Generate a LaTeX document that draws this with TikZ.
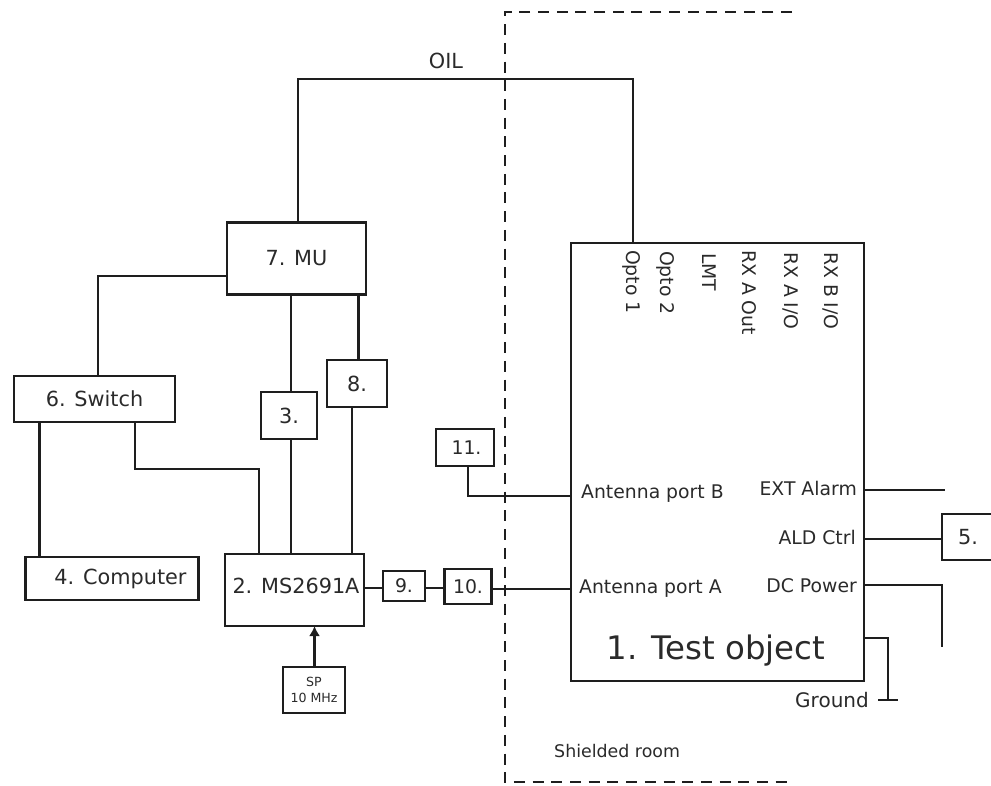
\documentclass[tikz,border=0pt]{standalone}
\usepackage{fontspec}
\usetikzlibrary{arrows.meta}
\setmainfont{DejaVu Sans}
\definecolor{inkline}{HTML}{1E1E1E}
\definecolor{inktext}{HTML}{2A2A2A}
\tikzset{
  unitbox/.style={draw=inkline, line width=2.4pt, inner sep=0pt, outer sep=0pt,
                  font=\fontsize{20.8}{24}\selectfont, text=inktext},
  wire/.style={draw=inkline, line width=2.4pt},
  portlabel/.style={font=\fontsize{18.8}{22}\selectfont, text=inktext, inner sep=0pt},
  pinlabel/.style={portlabel, rotate=-90, anchor=west},
  roomline/.style={draw=inkline, line width=2.4pt, dash pattern=on 11pt off 7.7pt},
}
\begin{document}
\begin{tikzpicture}[x=1pt, y=-1pt]
    \useasboundingbox (0,0) rectangle (991,786);
    % boxes
    \node[unitbox, minimum width=139pt, minimum height=72pt] (mu) at (296.5, 258.5) {7. MU};
    \node[unitbox, minimum width=161pt, minimum height=46pt] (switch) at (94.5, 399) {6. Switch};
    \node[unitbox, minimum width=56pt, minimum height=47pt] (three) at (289, 415.5) {3.};
    \node[unitbox, minimum width=60pt, minimum height=47pt] (eight) at (357, 383.5) {8.};
    \node[unitbox, minimum width=58pt, minimum height=37pt, font=\fontsize{18.8}{22}\selectfont] (eleven) at (465, 447.5) {\hspace*{3pt}11.};
    \node[unitbox, minimum width=173pt, minimum height=43pt] (computer) at (112, 578.5) {\hspace*{17pt}4. Computer};
    \node[unitbox, minimum width=139pt, minimum height=72pt] (analyzer) at (294.5, 590) {};
    \node[unitbox, draw=none, fill=none] (analyzertext) at (296, 586) {2. MS2691A};
    \node[unitbox, minimum width=42pt, minimum height=30pt, font=\fontsize{18.8}{22}\selectfont] (nine) at (404, 586) {9.};
    \node[unitbox, minimum width=47pt, minimum height=35pt, font=\fontsize{18.8}{22}\selectfont] (ten) at (468, 586.5) {10.};
    \node[unitbox, minimum width=62pt, minimum height=46pt, align=center,
          font=\fontsize{12.6}{16}\selectfont] (sp) at (314, 690) {SP\\10 MHz};
    \node[unitbox, minimum width=52pt, minimum height=46pt] (five) at (968, 537) {5.};
    \node[unitbox, minimum width=293pt, minimum height=438pt] (test) at (717.5, 462) {};
    \node[unitbox, draw=none, font=\fontsize{32.4}{36}\selectfont] (testtext) at (716, 651) {1. Test object};
    % labels in the test object
    \node[pinlabel] (opto1) at (632, 250) {Opto 1};
    \node[pinlabel] (opto2) at (666, 251) {Opto 2};
    \node[pinlabel] (lmt) at (709, 253) {LMT};
    \node[pinlabel] (rxaout) at (749, 250) {RX A Out};
    \node[pinlabel] (rxaio) at (791, 252) {RX A I/O};
    \node[pinlabel] (rxbio) at (831, 252) {RX B I/O};
    \node[portlabel, anchor=west] (portb) at (581, 494) {Antenna port B};
    \node[portlabel, anchor=west] (porta) at (579, 589) {Antenna port A};
    \node[portlabel, anchor=east] (extalarm) at (857, 488) {EXT Alarm};
    \node[portlabel, anchor=east] (aldctrl) at (856, 537) {ALD Ctrl};
    \node[portlabel, anchor=east] (dcpower) at (857, 586) {DC Power};
    \node[portlabel, font=\fontsize{20}{24}\selectfont, anchor=east] (ground) at (869, 700) {Ground};
    \node[portlabel, font=\fontsize{20.8}{24}\selectfont] (oil) at (446, 61) {OIL};
    \node[portlabel, font=\fontsize{17.4}{20}\selectfont, anchor=west] (room) at (554, 751) {Shielded room};
    % free ends
    \coordinate (alarmend) at (945, 490);
    \coordinate (powerend) at (942, 647);
    \coordinate (groundend) at (888, 700);
    \coordinate (tickleft) at (878, 700);
    \coordinate (tickright) at (898, 700);
    % connectors
    \draw[wire] ([xshift=1.5pt]mu.north) -- ++(0,-143.5) -| ([xshift=-84.5pt]test.north);
    \draw[wire] ([yshift=-17.5pt]mu.west) -| ([xshift=3.5pt]switch.north);
    \draw[wire] ([xshift=-55pt]switch.south) -- ([xshift=-72.5pt]computer.north);
    \draw[wire] ([xshift=40.5pt]switch.south) |- (259, 469) -- ([xshift=-35.5pt]analyzer.north);
    \draw[wire] ([xshift=-5.5pt]mu.south) -- ([xshift=2pt]three.north);
    \draw[wire] ([xshift=2pt]three.south) -- ([xshift=-3.5pt]analyzer.north);
    \draw[wire] ([xshift=62pt]mu.south) -- ([xshift=1.5pt]eight.north);
    \draw[wire] ([xshift=-5pt]eight.south) -- ([xshift=57.5pt]analyzer.north);
    \draw[wire] ([yshift=2pt]analyzer.east) -- ([yshift=-2pt]nine.west);
    \draw[wire] ([yshift=-2pt]nine.east) -- ([yshift=-1.5pt]ten.west);
    \draw[wire] ([yshift=-2.5pt]ten.east) -- ([yshift=-127pt]test.west);
    \draw[wire] ([xshift=3pt]eleven.south) |- ([yshift=-34pt]test.west);
    \draw[wire, -{Latex[length=10pt,width=11pt]}] ([xshift=0.5pt]sp.north) -- ([xshift=20pt]analyzer.south);
    \draw[wire] ([yshift=-28pt]test.east) -- (alarmend);
    \draw[wire] ([yshift=-77pt]test.east) -- ([yshift=-2pt]five.west);
    \draw[wire] ([yshift=-123pt]test.east) -| (powerend);
    \draw[wire] ([yshift=-176pt]test.east) -| (groundend);
    \draw[wire] (tickleft) -- (tickright);
    % shielded room
    \draw[roomline] (792, 12) -- (505, 12) -- (505, 782) -- (792, 782);
\end{tikzpicture}
\end{document}
